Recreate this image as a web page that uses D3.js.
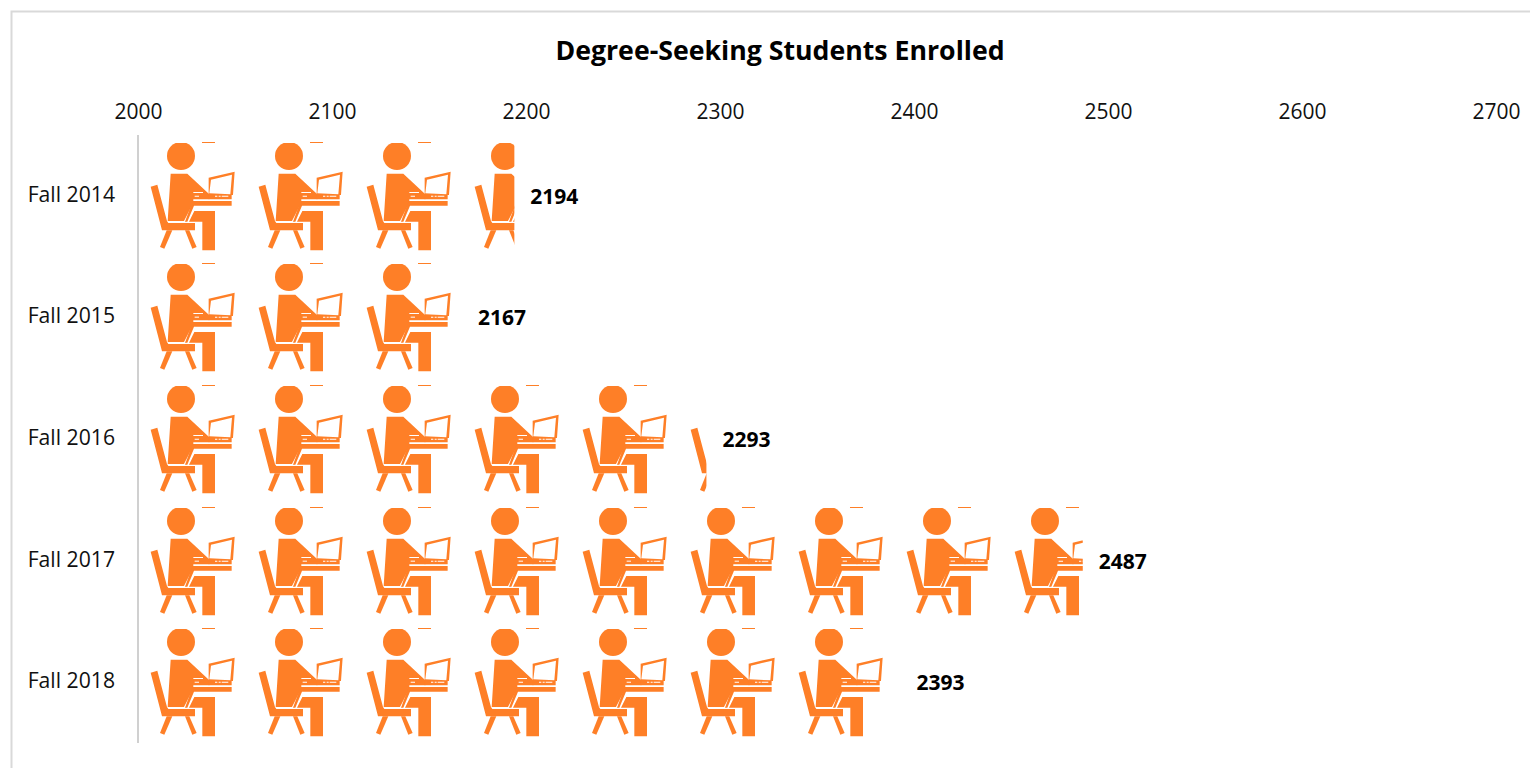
<!DOCTYPE html>
<html><head><meta charset="utf-8"><script src="https://cdn.jsdelivr.net/npm/d3@7/dist/d3.min.js"></script>
<style>html,body{margin:0;background:#fff}svg{display:block}text{font-family:"Open Sans",sans-serif}</style></head><body>
<div id="c"></div>
<script>
const categories=["Fall 2014","Fall 2015","Fall 2016","Fall 2017","Fall 2018"];
const enrolled=[2194,2167,2293,2487,2393];
const xTicks=[2000,2100,2200,2300,2400,2500,2600,2700];
const unitsPerIcon=55.67;
const title="Degree-Seeking Students Enrolled";
const orange="#FE7F27";
const W=1530,H=768;
const svg=d3.select("#c").append("svg").attr("width",W).attr("height",H);
svg.append("path").attr("d",`M11.5 768V11.5H1530`).attr("fill","none").attr("stroke","#d9d9d9").attr("stroke-width",2);
const x=d3.scaleLinear().domain([2000,2700]).range([138,1496]);
const y=d3.scaleBand().domain(categories).range([135,743]);
svg.append("text").attr("x",780).attr("y",60).attr("text-anchor","middle").attr("font-size",26.7).attr("font-weight",700).attr("fill","#000").text(title);
const axisG=svg.append("g").attr("transform","translate(0,120)")
  .call(d3.axisTop(x).tickValues(xTicks).tickFormat(d3.format("d")).tickSize(0).tickPadding(0));
axisG.select(".domain").remove();
axisG.selectAll("text").attr("font-size",21).attr("font-family",'"Open Sans"').attr("fill","#111").attr("dy","-1px");
svg.append("line").attr("x1",138).attr("x2",138).attr("y1",y.range()[0]).attr("y2",y.range()[1]).attr("stroke","#d0d0d0").attr("stroke-width",2);
const defs=svg.append("defs");
defs.append("clipPath").attr("id","headclip").append("rect").attr("x",0).attr("y",36).attr("width",390).attr("height",100);
const sym=defs.append("g").attr("id","student").attr("transform","translate(-8,-12) scale(0.3333)");
sym.append("circle").attr("cx",153).attr("cy",75).attr("r",42).attr("fill",orange).attr("clip-path","url(#headclip)");
const polys=[
"M216 33H255V36H216Z",
"M62 167L82 161L111 270L115 276H195V298H96Z",
"M110 298L90 348L103 353L127 298Z",
"M165 298L187 353L200 348L178 298Z",
"M122 128H172L238 190V205H190V215L162 270H113Z",
"M193 240H255V358H217V272H177Z",
"M188 210H305V224H192L172 272H165Z",
"M236 140L314 122L309 192H305V205H236ZM243 146L238 187L301 190L306 131Z"];
polys.forEach(d=>sym.append("path").attr("d",d).attr("fill",orange).attr("fill-rule","evenodd"));
["M190 183H219V186H190Z","M194 194H207V197H194Z","M255 194H262V197H255ZM266 194H272V197H266ZM275 194H295V197H275Z"].forEach(d=>sym.append("path").attr("d",d).attr("fill","#fff"));
const rows=svg.selectAll("g.row").data(categories).join("g").attr("class","row");
rows.each(function(c,i){
  const v=enrolled[i],g=d3.select(this),clip="clip"+i;
  const rowTop=Math.round(y(c)+y.bandwidth()/2-53);
  defs.append("clipPath").attr("id",clip).append("rect").attr("x",x(2000)).attr("y",rowTop-3).attr("width",x(v)-x(2000)).attr("height",114);
  const holder=g.append("g").attr("clip-path",`url(#${clip})`);
  d3.range(Math.ceil((v-2000)/unitsPerIcon)).forEach(k=>{
    holder.append("use").attr("href","#student").attr("transform",`translate(${x(2000+k*unitsPerIcon)},${rowTop})`);
  });
  g.append("text").attr("x",115).attr("y",rowTop+59).attr("text-anchor","end").attr("font-size",21.2).attr("fill","#111").text(c);
  g.append("text").attr("x",x(v)+40).attr("y",rowTop+61).attr("text-anchor","middle").attr("font-size",21).attr("font-weight",700).attr("fill","#000").text(v);
});
</script></body></html>
